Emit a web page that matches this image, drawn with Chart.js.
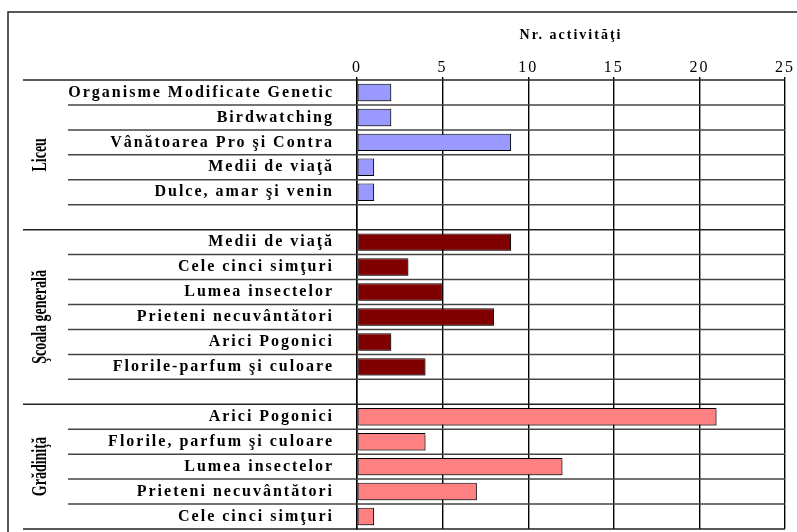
<!DOCTYPE html>
<html>
<head>
<meta charset="utf-8">
<script src="https://cdn.jsdelivr.net/npm/chart.js@4.4.1/dist/chart.umd.min.js"></script>
<style>
  body { margin: 0; background: #fff; }
  #wrap { width: 797px; height: 532px; position: relative; }
</style>
</head>
<body>
<div id="wrap"><canvas id="myChart"></canvas></div>
<script>
// date
const groupNames = ["Liceu", "Şcoala generală", "Grădiniţă"];
const liceuLabels = ["Organisme Modificate Genetic", "Birdwatching", "Vânătoarea Pro şi Contra", "Medii de viaţă", "Dulce, amar şi venin"];
const liceuValues = [2, 2, 9, 1, 1];
const scoalaLabels = ["Medii de viaţă", "Cele cinci simţuri", "Lumea insectelor", "Prieteni necuvântători", "Arici Pogonici", "Florile-parfum şi culoare"];
const scoalaValues = [9, 3, 5, 8, 2, 4];
const gradinitaLabels = ["Arici Pogonici", "Florile, parfum şi culoare", "Lumea insectelor", "Prieteni necuvântători", "Cele cinci simţuri"];
const gradinitaValues = [21, 4, 12, 7, 1];
const xTicks = [0, 5, 10, 15, 20, 25];
const axisTitle = "Nr. activităţi";
const groupColors = ["#9999FF", "#800000", "#FF8080"];

// construim lista de categorii (un rand gol intre grupe)
const groupLabels = [liceuLabels, scoalaLabels, gradinitaLabels];
const groupValues = [liceuValues, scoalaValues, gradinitaValues];
const labels = [];
const groupStart = [];
const groupEnd = [];
groupLabels.forEach((g, i) => {
  groupStart.push(labels.length);
  g.forEach(l => labels.push(l));
  if (i < groupLabels.length - 1) labels.push("");
  groupEnd.push(labels.length);
});

const datasets = groupValues.map((vals, i) => {
  const d = labels.map(() => null);
  vals.forEach((v, j) => { d[groupStart[i] + j] = v; });
  return {
    label: groupNames[i],
    data: d,
    backgroundColor: groupColors[i],
    borderColor: "#000",
    borderWidth: 1,
    borderSkipped: false,
    grouped: false,
    barPercentage: 0.7,
    categoryPercentage: 1,
  };
});

const serif = "Liberation Serif";

// linii, chenar si etichete de grupa
const framePlugin = {
  id: "frame",
  beforeDraw(chart) {
    chart.ctx.letterSpacing = "2px";
  },
  beforeDatasetsDraw(chart) {
    const ctx = chart.ctx;
    const y = chart.scales.y;
    const n = labels.length;
    const rowH = (y.bottom - y.top) / n;
    const right = chart.chartArea.right;
    ctx.save();
    for (let k = 0; k <= n; k++) {
      const isGroup = groupStart.includes(k) || k === n;
      const yy = y.top + k * rowH;
      ctx.strokeStyle = isGroup ? "#222" : "#444";
      ctx.lineWidth = 1.5;
      ctx.beginPath();
      ctx.moveTo(isGroup ? 23 : 68, yy);
      ctx.lineTo(right, yy);
      ctx.stroke();
    }
    ctx.restore();
    // umbra barelor
    ctx.save();
    ctx.shadowColor = "rgba(0,0,0,0.35)";
    ctx.shadowOffsetX = 2;
    ctx.shadowOffsetY = 2;
    ctx.shadowBlur = 0;
  },
  afterDatasetsDraw(chart) {
    chart.ctx.restore();
  },
  afterDraw(chart) {
    const ctx = chart.ctx;
    const y = chart.scales.y;
    const rowH = (y.bottom - y.top) / labels.length;
    ctx.save();
    ctx.letterSpacing = "0px";
    // chenarul exterior
    ctx.strokeStyle = "#222";
    ctx.lineWidth = 1.5;
    ctx.beginPath();
    ctx.moveTo(8, chart.height);
    ctx.lineTo(8, 12);
    ctx.lineTo(chart.width, 12);
    ctx.stroke();
    // numele grupelor, verticale
    ctx.fillStyle = "#000";
    ctx.font = "bold 14px " + serif;
    ctx.textAlign = "center";
    ctx.textBaseline = "middle";
    groupNames.forEach((name, i) => {
      const cy = y.top + (groupStart[i] + groupEnd[i]) / 2 * rowH;
      ctx.save();
      ctx.translate(41, cy);
      ctx.rotate(-Math.PI / 2);
      ctx.scale(1, 1.5);
      ctx.fillText(name, 0, 0);
      ctx.restore();
    });
    ctx.restore();
  },
};

const config = {
  type: "bar",
  data: { labels: labels, datasets: datasets },
  options: {
    indexAxis: "y",
    responsive: true,
    maintainAspectRatio: false,
    animation: false,
    layout: { padding: { left: 0, top: 0, right: 12, bottom: 3 } },
    plugins: {
      legend: { display: false },
      tooltip: { enabled: false },
    },
    scales: {
      x: {
        position: "top",
        min: xTicks[0],
        max: xTicks[xTicks.length - 1],
        afterBuildTicks: (s) => { s.ticks = xTicks.map(v => ({ value: v })); },
        afterFit: (s) => { s.height = 80; s.paddingLeft = 0; s.paddingRight = 0; },
        grid: { color: "#000", lineWidth: 1.4, tickLength: 3 },
        border: { display: false },
        ticks: {
          color: "#000",
          padding: 0,
          maxRotation: 0,
          font: { family: serif, size: 16 },
        },
        title: {
          display: true,
          text: axisTitle,
          color: "#000",
          font: { family: serif, size: 14, weight: "bold" },
          padding: { top: 27, bottom: 0 },
        },
      },
      y: {
        afterFit: (s) => { s.width = 357; s.paddingTop = 0; s.paddingBottom = 0; },
        grid: { display: false },
        border: { display: true, color: "#000", width: 1.5 },
        ticks: {
          color: "#000",
          padding: 15,
          autoSkip: false,
          font: { family: serif, size: 16, weight: "bold" },
        },
      },
    },
  },
  plugins: [framePlugin],
};

let context = document.getElementById("myChart").getContext("2d");
let chart = new Chart(context, config);
</script>
</body>
</html>
